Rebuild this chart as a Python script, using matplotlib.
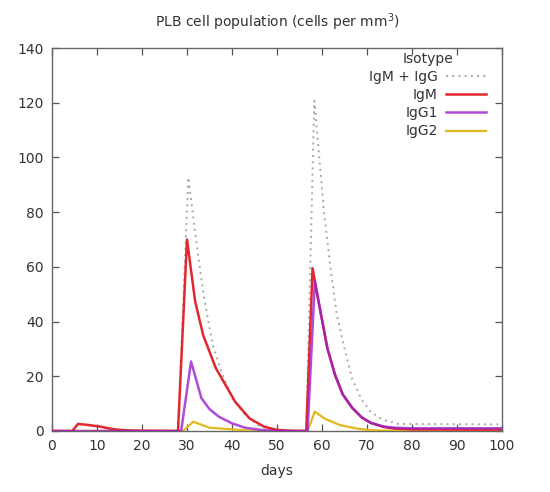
import matplotlib
matplotlib.use("Agg")
import matplotlib.pyplot as plt

plt.rcParams['font.family'] = ['DejaVu Sans']

# ---- data ----
igm_days = [0, 4.5, 5.8, 8, 10.7, 12.5, 14.4, 17, 20, 28.0, 30.0, 31.8, 33.6, 36.4,
            40.7, 43.9, 47.1, 50, 53, 56.5, 57.9, 58.6, 59.8, 61.2, 62.9, 64.6,
            66.7, 68.8, 70.8, 73.6, 76, 80, 100]
igm_vals = [0, 0, 2.6, 2.2, 1.6, 1.0, 0.5, 0.2, 0.1, 0, 70, 47.5, 35, 23,
            10.7, 4.6, 1.6, 0.4, 0.1, 0, 59.5, 53, 42.4, 30.2, 20.5, 13.4,
            8.5, 5.0, 3.0, 1.5, 0.9, 0.6, 0.5]

igg1_days = [0, 28.7, 30.9, 33.2, 35.0, 37.1, 40.0, 42.9, 46.4, 50, 56.8, 58.4,
             59.8, 61.2, 62.9, 64.6, 66.7, 68.8, 70.8, 73.6, 76, 80, 100]
igg1_vals = [0, 0, 25.4, 12, 8, 5.2, 2.8, 1.2, 0.4, 0, 0, 54.6,
             42.4, 30.2, 20.5, 13.4, 8.5, 5.0, 3.0, 1.7, 1.2, 1.0, 1.0]

igg2_days = [0, 29.1, 31.4, 35.0, 40.0, 45, 56.8, 58.4, 60.5, 63.9, 67.4, 70.1,
             74, 100]
igg2_vals = [0, 0, 3.4, 1.2, 0.6, 0, 0, 7.1, 4.6, 2.2, 1.0, 0.4, 0.1, 0.1]

total_days = [0, 4.5, 5.8, 8, 10.7, 14.4, 20, 28.0, 30.3, 32.3, 33.9, 35.7, 37.9,
              40.0, 42.9, 45.7, 48.6, 52, 56.5, 58.3, 60.5, 61.9, 63.3, 65.0, 66.7,
              68.8, 70.8, 73.6, 77, 100]
total_vals = [0, 0, 2.6, 2.2, 1.6, 0.5, 0.1, 0, 92.7, 66, 47.5, 31.5, 20.5,
              12, 5.9, 2.2, 0.4, 0, 0, 120.7, 79, 59.5, 42.4, 30.2, 19,
              11.5, 7, 4, 2.6, 2.4]

x_ticks = [0, 10, 20, 30, 40, 50, 60, 70, 80, 90, 100]
y_ticks = [0, 20, 40, 60, 80, 100, 120, 140]

labels = ['IgM + IgG', 'IgM', 'IgG1', 'IgG2']
colors = ['#a8a8a8', '#e0282e', '#9a1fd0', '#e2b81c']

# ---- figure ----
fig = plt.figure(figsize=(5.5, 4.92), dpi=100)
ax = fig.add_axes([52/550, 1-431/492, 450/550, 383/492])

ax.plot(total_days, total_vals, color=colors[0], lw=1.4, ls=(0, (1, 2.2)), label=labels[0], zorder=2)
ax.plot(igm_days, igm_vals, color=colors[1], lw=1.8, label=labels[1], zorder=4)
ax.plot(igg1_days, igg1_vals, color=colors[2], lw=1.8, alpha=0.8, label=labels[2], zorder=5)
ax.plot(igg2_days, igg2_vals, color=colors[3], lw=1.6, label=labels[3], zorder=3)

ax.set_xlim(0, 100)
ax.set_ylim(0, 140)
ax.set_xticks(x_ticks)
ax.set_yticks(y_ticks)
ax.tick_params(direction='in', length=5, width=0.9, top=True, right=True,
               labelsize=10, colors='#555555', labelcolor='#333333', pad=6)
for s in ax.spines.values():
    s.set_color('#666666')
    s.set_linewidth(1.0)

ax.set_xlabel('days', fontsize=10, color='#333333', labelpad=8)
ax.set_title('PLB cell population (cells per mm$^3$)', fontsize=10, color='#333333', pad=15)

leg = ax.legend(loc='upper right', bbox_to_anchor=(0.965, 0.99), frameon=False,
                markerfirst=False, title='Isotype', fontsize=10, title_fontsize=10,
                handlelength=2.9, handletextpad=0.6, labelspacing=0.3, borderaxespad=0,
                borderpad=0)
for t in leg.get_texts():
    t.set_color('#333333')
leg.get_title().set_color('#333333')

fig.savefig('out.png', dpi=100)
